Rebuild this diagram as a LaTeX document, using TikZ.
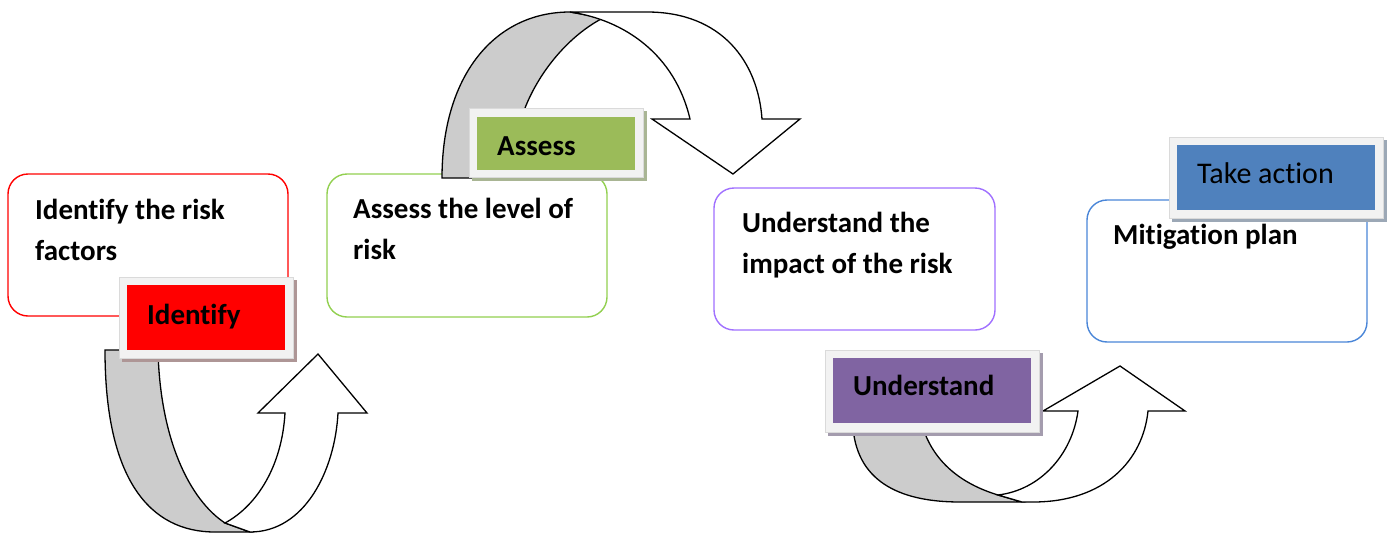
\documentclass[tikz,border=0pt]{standalone}
\usepackage{fontspec}
\setmainfont{Carlito}[Ligatures=NoCommon]
\definecolor{cred}{HTML}{FF0000}
\definecolor{cgreenfill}{HTML}{9BBB59}
\definecolor{cgreenline}{HTML}{92D050}
\definecolor{cpurplefill}{HTML}{8064A2}
\definecolor{cpurpleline}{HTML}{A070FF}
\definecolor{cbluefill}{HTML}{4F81BD}
\definecolor{cblueline}{HTML}{4A86D8}
\definecolor{frame}{HTML}{F2F2F2}
\definecolor{framebd}{HTML}{DADADA}
\definecolor{shred}{HTML}{AE9696}
\definecolor{shgreen}{HTML}{A9B594}
\definecolor{shpurple}{HTML}{A49CAE}
\definecolor{shblue}{HTML}{9CA8B6}
\definecolor{band}{HTML}{CCCCCC}
\tikzset{
  box/.style={draw, line width=1.4pt, rounded corners=20pt, fill=white, anchor=north west, inner sep=0pt, outer sep=0pt},
  boxtext/.style={anchor=base west, align=left, inner sep=0pt, font=\fontsize{29}{41}\selectfont\bfseries},
  band/.style={draw=black, line width=1.3pt, fill=band, line join=miter},
  front/.style={draw=black, line width=1.3pt, fill=white, line join=miter},
  lframe/.style={fill=frame, draw=framebd, line width=0.6pt},
  labeltext/.style={anchor=base west, inner sep=0pt, font=\fontsize{29}{34}\selectfont\bfseries},
}
\begin{document}
\begin{tikzpicture}[x=1pt,y=-1pt]
\useasboundingbox (0,0) rectangle (1387,533);
% ---- boxes
\node[box, draw=cred, minimum width=280pt, minimum height=142pt] (b1) at (8,174) {};
\node[box, draw=cgreenline, minimum width=280pt, minimum height=143pt] (b2) at (327,174) {};
\node[box, draw=cpurpleline, minimum width=281pt, minimum height=142pt] (b3) at (714,188) {};
\node[box, draw=cblueline, minimum width=280pt, minimum height=142pt] (b4) at (1087,200) {};
% multi-line nodes: base = baseline of the last line
\node[boxtext] (t1) at (35,260) {Identify the risk\\factors};
\node[boxtext] (t2) at (353,259) {Assess the level of\\risk};
\node[boxtext] (t3) at (742,273) {Understand the\\impact of the risk};
\node[boxtext] (t4) at (1113,244) {Mitigation plan};
% ---- arrow 1 (Identify)
\draw[band] (105,350) .. controls (105,480) and (150,532) .. (215,532) -- (250,532) -- (225,523)
   .. controls (190,500) and (160,440) .. (158,350) -- cycle;
\draw[front] (250,532) .. controls (305,532) and (335,470) .. (338,413) -- (367,413) -- (318,354) -- (258,413) -- (285,413)
   .. controls (282,465) and (258,505) .. (225,523) -- cycle;
% ---- arrow 2 (Assess)
\draw[band] (442,178) .. controls (442,75) and (495,12) .. (570,12) -- (603,18)
   .. controls (570,35) and (540,70) .. (525,108) -- (525,178) -- cycle;
\draw[front] (570,12) -- (647,12) .. controls (722,12) and (758,62) .. (762,119) -- (800,119) -- (733,174) -- (652,119) -- (690,119)
   .. controls (675,55) and (625,20) .. (570,12) -- cycle;
% ---- arrow 3 (Understand)
\draw[band] (853,428) .. controls (858,485) and (905,502) .. (960,502) -- (1022,502) -- (998,495)
   .. controls (965,485) and (935,465) .. (923,428) -- cycle;
\draw[front] (1022,502) -- (1033,502) .. controls (1105,502) and (1143,460) .. (1148,411) -- (1185,411) -- (1120,366) -- (1043,411) -- (1078,411)
   .. controls (1072,455) and (1040,490) .. (998,495) -- cycle;
% ---- labels
\fill[shred] (122,280) rectangle (297,362);
\filldraw[lframe] (119,277) rectangle (293,358);
\fill[cred] (127,285) rectangle (285,350);
\node[labeltext] (l1) at (147,324) {Identify};

\fill[shgreen] (472,111) rectangle (647,181);
\filldraw[lframe] (469,108) rectangle (643,177);
\fill[cgreenfill] (477,117) rectangle (635,170);
\node[labeltext] (l2) at (497,155) {Assess};

\fill[shpurple] (828,353) rectangle (1043,436);
\filldraw[lframe] (825,350) rectangle (1039,432);
\fill[cpurplefill] (833,358) rectangle (1031,423);
\node[labeltext] (l3) at (853,395) {Understand};

\fill[shblue] (1172,140) rectangle (1387,222);
\filldraw[lframe] (1169,137) rectangle (1383,218);
\fill[cbluefill] (1177,145) rectangle (1375,210);
\node[labeltext, font=\fontsize{30}{34}\selectfont] (l4) at (1197,183) {Take action};
\end{tikzpicture}
\end{document}
